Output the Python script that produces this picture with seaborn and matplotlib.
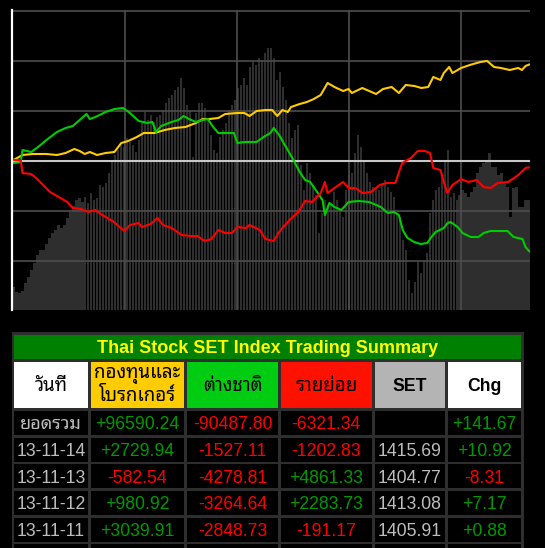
import numpy as np
import pandas as pd
import seaborn as sns
import matplotlib
matplotlib.use("Agg")
import matplotlib.pyplot as plt
from matplotlib import font_manager
from matplotlib.patches import Rectangle

# ---------------- data ----------------
# daily SET-index bars (relative heights) for 173 sessions
bar_h = [23, 18, 17, 19, 27, 33, 40, 47, 55, 60,
         60, 66, 72, 77, 80, 85, 82, 85, 92, 98,
         104, 110, 112, 108, 113, 107, 117, 110, 112, 125,
         123, 127, 137, 148, 155, 160, 165, 163, 172, 168,
         165, 158, 170, 187, 198, 190, 195, 188, 193, 195,
         200, 207, 212, 215, 220, 223, 232, 222, 205, 200,
         153, 197, 207, 207, 202, 190, 175, 160, 157, 173,
         180, 187, 200, 205, 210, 222, 225, 232, 225, 243,
         248, 245, 252, 250, 257, 262, 262, 252, 230, 238,
         223, 210, 187, 172, 180, 185, 145, 120, 147, 137,
         125, 115, 77, 97, 110, 105, 107, 118, 110, 100,
         93, 120, 135, 137, 157, 175, 163, 150, 137, 128,
         123, 123, 120, 125, 130, 123, 118, 113, 97, 93,
         70, 60, 30, 17, 28, 48, 37, 50, 57, 97,
         110, 120, 123, 137, 150, 160, 113, 117, 110, 115,
         120, 117, 113, 118, 123, 137, 143, 147, 150, 157,
         143, 143, 135, 137, 127, 123, 93, 122, 123, 103,
         103, 110, 110]

# cumulative net flows (billion THB) : institutions+brokers (yellow)
fund_x = [0, 3, 6.4, 11, 14.5, 17.4, 20.3, 22.1, 23.8, 25.5, 27.9, 30.8, 33.7, 36, 38.3,
          41.2, 43.5, 47, 50.5, 53.9, 57.4, 60.9, 63.2, 65.5, 68.4, 70.7, 74.8, 77.1, 78.8,
          81.2, 84.1, 86.4, 88.1, 89.8, 91.6, 92.7, 95.6, 98, 100.3, 102.6, 104.9, 107.2,
          110.1, 111.9, 113, 116.5, 118.8, 121.1, 123.4, 126.3, 128.7, 131, 133.9, 136.2,
          138.5, 140.2, 142.6, 143.7, 145.5, 146.6, 149.5, 152.4, 155.9, 158.2, 160.5,
          162.8, 165.7, 168.6, 169.8, 171, 172.3]
fund_v = [1, 6, 7, 7, 6, 8, 12, 10, 7, 9, 6, 8, 9, 18, 20,
          24, 28, 28, 31, 33, 34, 38, 42, 42, 43, 47, 48, 48, 45,
          50, 51, 51, 45, 51, 49, 54, 57, 59, 62, 66, 78, 74,
          70, 72, 68, 73, 70, 67, 72, 74, 68, 76, 75, 73,
          74, 84, 81, 88, 94, 88, 93, 96, 99, 100, 94,
          93, 91, 93, 91, 95, 96.6]

# foreign investors (green)
foreign_x = [0, 2.4, 3, 5.9, 8.2, 11, 14.5, 17.4, 19.8, 22.1, 24.4, 25.5, 27.3, 30.8, 33.7,
             36.6, 38.9, 41.8, 44.7, 46.4, 47.6, 49.3, 52.8, 55.1, 56.8, 58.6, 60.9, 63.2,
             64.9, 66.7, 68.4, 73.6, 74.8, 77.1, 81.2, 83.5, 85.8, 86.9, 88.7, 91, 93.3,
             95.6, 97.4, 99.1, 101.4, 103.2, 104, 105.5, 107.2, 109.5, 111.9, 115.3, 118.8,
             122.7, 125, 127, 128.7, 130, 131.6, 133.8, 136, 138.2, 139.3, 141, 143.7, 145,
             146, 148.3, 150, 152.7, 155.3, 157, 159.3, 165, 167, 170, 171, 172.3]
foreign_v = [-2, -1, 11, 9, 14, 21, 29, 33, 35, 41, 47, 42, 44, 49, 52,
             53, 48, 40, 38, 39, 29, 35, 39, 41, 45, 42, 39, 41,
             42, 34, 28, 28, 18, 19, 19, 24, 28, 33, 26, 14, 2,
             -11, -19, -21, -31, -39, -54, -42, -46, -49, -41, -40, -41,
             -46, -52, -51, -54, -69, -77, -81, -83, -82, -77, -71, -67, -62,
             -61, -66, -72, -76, -76, -72, -70, -70, -76, -78, -86, -90.5]

# retail investors (red)
retail_x = [0, 2.4, 3, 5.9, 7.6, 9.9, 12.2, 15.7, 18, 19.8, 22.6, 25, 27.3, 29.6, 33.1,
            35.4, 37.1, 38.9, 41.8, 42.9, 45.8, 48.1, 49.9, 52.8, 56.2, 59.1, 61.5, 63.8,
            66.1, 68.4, 70.7, 73, 74.8, 77.7, 78.8, 82.3, 84.1, 86.9, 88.7, 92.2, 95.1,
            97.4, 99.7, 102.6, 104, 104.9, 107.2, 110.1, 111.9, 114.2, 116.5, 119.4, 122.3,
            124.6, 127.5, 129.8, 132.7, 135, 137.4, 139.1, 140.2, 142.6, 143.7, 144.9,
            146.6, 149.5, 151.8, 154.7, 157, 159.4, 161.7, 165.2, 168.6, 171, 172.1]
retail_v = [1, 1, -12, -13, -17, -24, -31, -37, -41, -47, -48, -51, -49, -54, -60,
            -66, -70, -64, -62, -66, -63, -57, -64, -67, -74, -75, -75, -80,
            -78, -69, -72, -72, -66, -67, -64, -69, -78, -80, -71, -59, -51,
            -40, -41, -32, -21, -32, -27, -21, -27, -27, -32, -31, -24,
            -22, -22, -2, 3, 10, 10, 8, -7, -9, -21, -32,
            -24, -18, -21, -19, -26, -27, -22, -21, -14, -7, -6.3]

# summary table
title = "Thai Stock SET Index Trading Summary"
headers = ["วันที่", "กองทุนและ\nโบรกเกอร์", "ต่างชาติ", "รายย่อย", "SET", "Chg"]
dates = ["ยอดรวม", "13-11-14", "13-11-13", "13-11-12", "13-11-11"]
fund_net = [96590.24, 2729.94, -582.54, 980.92, 3039.91]
foreign_net = [-90487.80, -1527.11, -4278.81, -3264.64, -2848.73]
retail_net = [-6321.34, -1202.83, 4861.33, 2283.73, -191.17]
set_index = [None, 1415.69, 1404.77, 1413.08, 1405.91]
set_chg = [141.67, 10.92, -8.31, 7.17, 0.88]

# ---------------- style ----------------
sns.set_theme(style="ticks")
plt.rcParams["font.family"] = ["Liberation Sans", "DejaVu Sans"]
names = {f.name for f in font_manager.fontManager.ttflist}
thai_pref = ["Noto Sans Thai Looped", "Sarabun", "Noto Sans Thai", "Tahoma", "Loma",
             "Garuda", "Bai Jamjuree", "Athiti"]
thai_font = next((n for n in thai_pref if n in names), "DejaVu Sans")
THAI = [thai_font, "Liberation Sans", "DejaVu Sans"]
LAT = ["Liberation Sans", "DejaVu Sans"]

W, H = 545, 548
fig = plt.figure(figsize=(W / 100, H / 100), dpi=100, facecolor="black")


def frac(l, t, r, b):
    return [l / W, 1 - b / H, (r - l) / W, (b - t) / H]


# ---------------- chart ----------------
days = np.arange(len(bar_h))
axb = fig.add_axes(frac(12, 10, 530, 310))
axb.set_facecolor("black")
sns.barplot(x=days, y=bar_h, native_scale=True, color="#2e2e2e", saturation=1,
            width=0.76, linewidth=0, errorbar=None, ax=axb)
axb.set_xlim(-0.5, 172.5)
axb.set_ylim(0, 300)
axb.axis("off")

ax = fig.add_axes(frac(12, 10, 530, 310))
ax.set_facecolor("none")
for xs, vs, col in [(fund_x, fund_v, "#FFCC00"),
                    (foreign_x, foreign_v, "#00CC00"),
                    (retail_x, retail_v, "#FF0000")]:
    sns.lineplot(x=xs, y=vs, color=col, linewidth=1.5, estimator=None, sort=False, ax=ax)
ax.set_xlim(-0.5, 172.5)
ax.set_ylim(-149, 151)
ax.set_yticks([-100, -50, 0, 50, 100, 150])
ax.set_xticks([37.3, 74.7, 112, 149.3])
ax.set_axisbelow(True)
ax.grid(True, color="#4d4d4d", linewidth=1.2)
ax.axhline(0, color="#c8c8c8", linewidth=1.5, zorder=1.5)
ax.tick_params(length=0, labelleft=False, labelbottom=False)
ax.set_xlabel("")
ax.set_ylabel("")
for s in ["top", "right", "bottom"]:
    ax.spines[s].set_visible(False)
ax.spines["left"].set_color("white")
ax.spines["left"].set_linewidth(1.6)

# ---------------- table ----------------
axt = fig.add_axes([0, 0, 1, 1], facecolor="none")
axt.set_xlim(0, W)
axt.set_ylim(H, 0)
axt.axis("off")


def box(l, t, r, b, c):
    axt.add_patch(Rectangle((l, t), r - l, b - t, facecolor=c, edgecolor="none"))


box(11.5, 332, 524, H + 2, "#2e2e2e")
box(13.9, 335, 521.4, 359, "#008000")
axt.text(267.7, 353.3, title, ha="center", va="baseline", color="#FFFF00",
         fontsize=13, fontweight="bold", family=LAT)

cols = [(13.9, 87.9), (91.1, 183.9), (187, 278), (280.8, 371.9), (375, 444.6), (447.7, 521.4)]
head_bg = ["#FFFFFF", "#FFCC00", "#00CC11", "#FF1100", "#B4B4B4", "#FFFFFF"]
for (l, r), c, txt in zip(cols, head_bg, headers):
    box(l, 361.7, r, 408, c)
    cx = (l + r) / 2
    if "\n" in txt:
        a, b = txt.split("\n")
        axt.text(cx, 378.5, a, ha="center", va="baseline", color="black", fontsize=13.5,
                 fontweight="bold", family=THAI)
        axt.text(cx, 401, b, ha="center", va="baseline", color="black", fontsize=13.5,
                 fontweight="bold", family=THAI)
    elif txt.isascii():
        axt.text(cx, 391, txt, ha="center", va="baseline", color="black", fontsize=12.7,
                 fontweight="bold", family=LAT)
    else:
        axt.text(cx, 391, txt, ha="center", va="baseline", color="black", fontsize=13.5,
                 fontweight="bold", family=THAI)

GREEN, RED, GRAY = "#009A00", "#FF0000", "#BDBDBD"


def signed(v):
    return (f"{v:+.2f}", GREEN if v > 0 else RED)


row_tops = [411, 437.7, 464.3, 491, 517.7, 544.3]
for t in row_tops:
    for l, r in cols:
        box(l, t, r, t + 24, "black")

for i, t in enumerate(row_tops[:len(dates)]):
    base = t + 18.3
    cells = [(dates[i], GRAY)]
    cells += [signed(fund_net[i]), signed(foreign_net[i]), signed(retail_net[i])]
    cells += [("" if set_index[i] is None else f"{set_index[i]:.2f}", GRAY)]
    cells += [signed(set_chg[i])]
    for (l, r), (txt, c) in zip(cols, cells):
        fam = LAT if txt.isascii() else THAI
        axt.text((l + r) / 2, base, txt, ha="center", va="baseline", color=c,
                 fontsize=12.7 if txt.isascii() else 13, family=fam)

fig.savefig("out.png", dpi=100, facecolor="black")
